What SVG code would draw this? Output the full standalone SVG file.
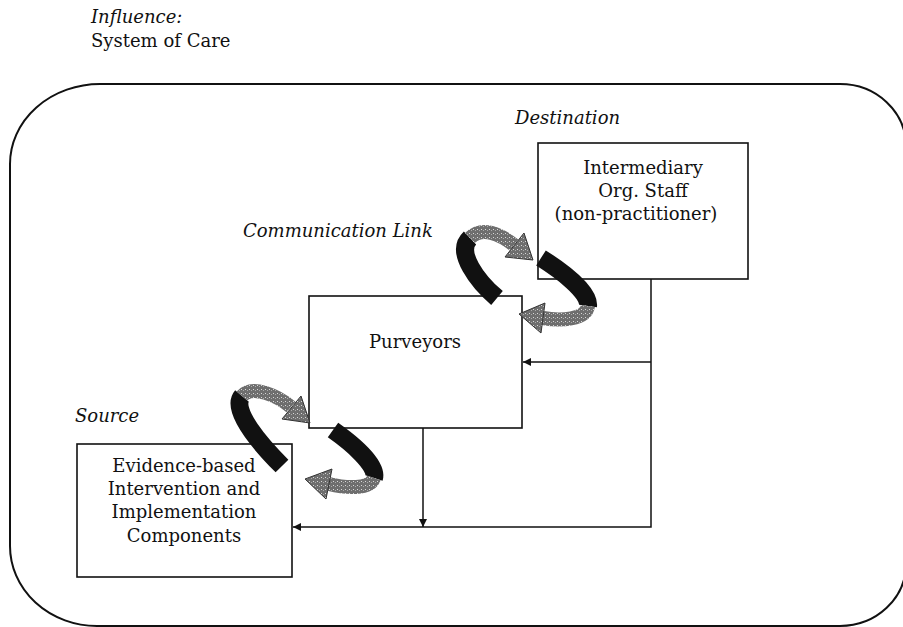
<svg xmlns="http://www.w3.org/2000/svg" width="903" height="627" viewBox="0 0 903 627">
<style>
text{font-family:'DejaVu Serif','Liberation Serif',serif;font-size:18px;fill:#111}
.i{font-style:italic}
.box{fill:#fff;stroke:#111;stroke-width:1.6}
.ln{fill:none;stroke:#111;stroke-width:1.5}
.blk{fill:none;stroke:#111;stroke-width:18;stroke-linecap:butt}
.gry{fill:none;stroke:url(#stip);stroke-width:14;stroke-linecap:butt}
.head{fill:url(#stip);stroke:#333;stroke-width:1}
</style>
<defs>
<pattern id="stip" width="4" height="4" patternUnits="userSpaceOnUse">
<rect width="4" height="4" fill="#6e6e6e"/>
<rect x="1" y="1" width="1" height="1" fill="#d8d8d8"/>
<rect x="3" y="2" width="1" height="1" fill="#aaaaaa"/>
</pattern>
<marker id="ah" viewBox="0 0 10 10" refX="10" refY="5" markerWidth="8" markerHeight="8" markerUnits="userSpaceOnUse" orient="auto">
<path d="M0,0 L10,5 L0,10 Z" fill="#111"/>
</marker>
</defs>
<rect width="903" height="627" fill="#fff"/>
<g id="influence">
<text class="i" x="91" y="23">Influence:</text>
<text x="91" y="47">System of Care</text>
<path d="M 100 84 H 840 A 66 62 0 0 1 906 146 V 564 A 66 62 0 0 1 840 626 H 97 A 87 80 0 0 1 10 546 V 164 A 90 80 0 0 1 100 84 Z" fill="none" stroke="#111" stroke-width="2"/>
</g>
<g id="labels">
<text class="i" x="515" y="124">Destination</text>
<text class="i" x="243" y="237">Communication Link</text>
<text class="i" x="75" y="422">Source</text>
</g>
<g id="intermediary">
<rect class="box" x="538" y="143" width="210" height="136"/>
<text text-anchor="middle" x="643" y="174">Intermediary</text>
<text text-anchor="middle" x="643" y="197">Org. Staff</text>
<text text-anchor="middle" x="636" y="220">(non-practitioner)</text>
</g>
<g id="purveyors">
<rect class="box" x="309" y="296" width="213" height="132"/>
<text text-anchor="middle" x="415" y="348">Purveyors</text>
</g>
<g id="evidence">
<rect class="box" x="77" y="444" width="215" height="133"/>
<text text-anchor="middle" x="184" y="472">Evidence-based</text>
<text text-anchor="middle" x="184" y="495">Intervention and</text>
<text text-anchor="middle" x="184" y="518">Implementation</text>
<text text-anchor="middle" x="184" y="542">Components</text>
</g>
<g id="connectors">
<path class="ln" d="M 651 279 V 527 H 293" marker-end="url(#ah)"/>
<path class="ln" d="M 651 362 H 523" marker-end="url(#ah)"/>
<path class="ln" d="M 423 428 V 527" marker-end="url(#ah)"/>
</g>
<g id="communication-arrows">
<path class="blk" d="M 497 298 C 478 282, 455 252, 470 238"/>
<path class="gry" d="M 470 238 C 482 226, 500 234, 514 245"/>
<polygon class="head" points="524,233 533,260 505,257"/>
<path class="blk" d="M 541 258 C 560 270, 590 292, 588 306"/>
<path class="gry" d="M 588 306 C 586 320, 560 321, 543 318"/>
<polygon class="head" points="545,303 519,314 541,333"/>
<path class="blk" d="M 282 466 C 262 446, 230 410, 242 396"/>
<path class="gry" d="M 242 396 C 252 384, 278 396, 291 407"/>
<polygon class="head" points="301,396 310,423 282,419"/>
<path class="blk" d="M 333 430 C 350 442, 378 465, 374 478"/>
<path class="gry" d="M 374 478 C 370 490, 345 488, 329 484"/>
<polygon class="head" points="332,469 305,479 326,499"/>
</g>
</svg>
